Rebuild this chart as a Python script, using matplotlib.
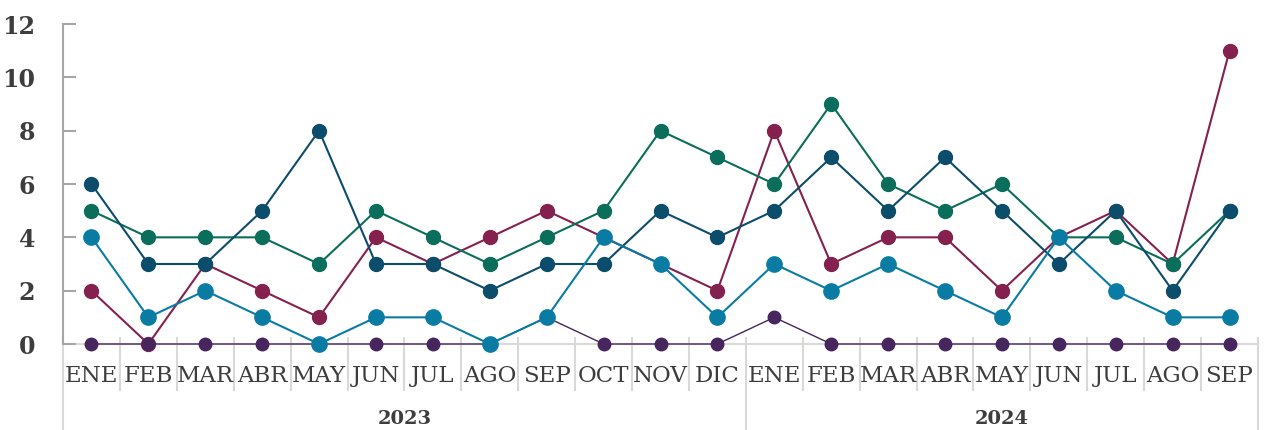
import matplotlib.pyplot as plt
from matplotlib.transforms import blended_transform_factory

months = ["ENE", "FEB", "MAR", "ABR", "MAY", "JUN", "JUL", "AGO", "SEP", "OCT", "NOV", "DIC",
          "ENE", "FEB", "MAR", "ABR", "MAY", "JUN", "JUL", "AGO", "SEP"]
years = ["2023", "2024"]
year_counts = [12, 9]

# series values (one per month)
maroon = [2, 0, 3, 2, 1, 4, 3, 4, 5, 4, 3, 2, 8, 3, 4, 4, 2, 4, 5, 3, 11]
purple = [0, 0, 0, 0, 0, 0, 0, 0, 1, 0, 0, 0, 1, 0, 0, 0, 0, 0, 0, 0, 0]
green = [5, 4, 4, 4, 3, 5, 4, 3, 4, 5, 8, 7, 6, 9, 6, 5, 6, 4, 4, 3, 5]
navy = [6, 3, 3, 5, 8, 3, 3, 2, 3, 3, 5, 4, 5, 7, 5, 7, 5, 3, 5, 2, 5]
cyan = [4, 1, 2, 1, 0, 1, 1, 0, 1, 4, 3, 1, 3, 2, 3, 2, 1, 4, 2, 1, 1]

plt.rcParams['font.family'] = ['DejaVu Serif']
txt = '#3d3d3d'

fig = plt.figure(figsize=(12.69, 4.30), dpi=100)
ax = fig.add_axes([63 / 1269, 86 / 430, 1195 / 1269, 320 / 430])

x = list(range(len(months)))
styles = [
    (maroon, '#85214f', 1.5, 10, 2),
    (purple, '#47265e', 1.0, 9, 3),
    (green, '#0b6e5b', 1.5, 10, 4),
    (navy, '#0b4d6b', 1.5, 10, 5),
    (cyan, '#0a7ca4', 1.5, 11, 6),
]
for vals, col, lw, ms, z in styles:
    ax.plot(x, vals, color=col, lw=lw, marker='o', ms=ms, mec=col, mfc=col,
            zorder=z, clip_on=False)

ax.set_xlim(-0.5, len(months) - 0.5)
ax.set_ylim(0, 12)
ax.set_yticks(range(0, 13, 2))
ax.tick_params(axis='y', direction='in', length=9, width=1.5, color='#a6a6a6',
               labelsize=17, labelcolor=txt, pad=20)
for lab in ax.get_yticklabels():
    lab.set_fontweight('bold')

ax.set_xticks(x)
ax.set_xticklabels(months, fontsize=16.5, color=txt)
ax.tick_params(axis='x', length=0, pad=15)

for s in ['top', 'right', 'bottom']:
    ax.spines[s].set_visible(False)
ax.spines['left'].set_color('#a6a6a6')
ax.spines['left'].set_linewidth(1.5)
ax.spines['left'].set_bounds(0, 12)

tr = blended_transform_factory(ax.transData, ax.transAxes)
sep = '#d9d9d9'
ax.plot([-0.5, len(months) - 0.5], [0, 0], transform=tr, color=sep, lw=1.5,
        clip_on=False, zorder=1)

# category separators and year separators
year_edges = [0]
for c in year_counts:
    year_edges.append(year_edges[-1] + c)
for k in range(len(months) + 1):
    if k in year_edges:
        ax.plot([k - 0.5, k - 0.5], [0.02, -0.27], transform=tr, color=sep, lw=1.5,
                clip_on=False, zorder=1)
    else:
        ax.plot([k - 0.5, k - 0.5], [0.02, -0.145], transform=tr, color=sep, lw=1.5,
                clip_on=False, zorder=1)

for i, yr in enumerate(years):
    center = (year_edges[i] + year_edges[i + 1] - 1) / 2
    ax.text(center, -0.235, yr, transform=tr, ha='center', va='center',
            fontsize=14, fontweight='bold', color=txt)

fig.savefig('out.png', dpi=100)
